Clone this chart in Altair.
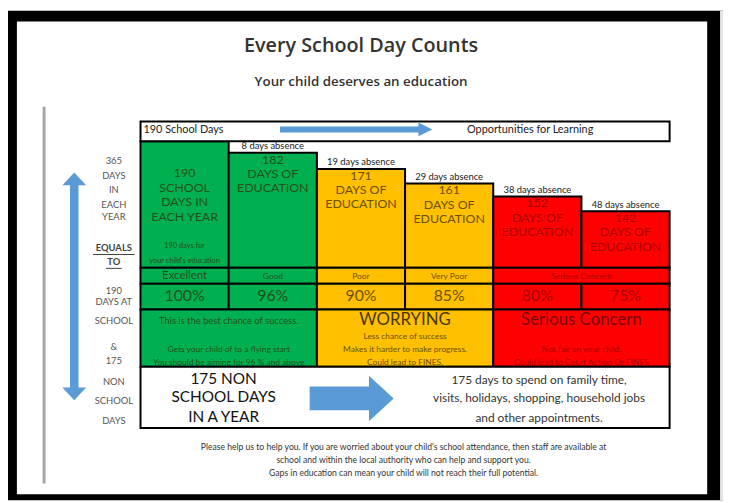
import altair as alt
import pandas as pd

# ---------------- data ----------------
days = [190, 182, 171, 161, 152, 142]
absence = [0, 8, 19, 29, 38, 48]
percent = ["100%", "96%", "90%", "85%", "80%", "75%"]
ratings = ["Excellent", "Good", "Poor", "Very Poor", "Serious Concern"]
rating_span = [1, 1, 1, 1, 2]
first_col_lines = ["190", "SCHOOL", "DAYS IN", "EACH YEAR"]
first_col_note = ["190 days for", "your child's education"]
msg_heads = ["", "WORRYING", "Serious Concern"]
msg_lines = [
    ["This is the best chance of success.", "", "Gets your child of to a flying start",
     "You should be aiming for 96 % and above"],
    ["", "Less chance of success", "Makes it harder to make progress.", "Could lead to FINES."],
    ["", "", "Not fair on your child.", "Could lead to Court Action Or FINES"],
]
left_labels = ["365", "DAYS", "IN", "EACH", "YEAR", "EQUALS", "TO", "190", "DAYS AT",
               "SCHOOL", "&", "175", "NON", "SCHOOL", "DAYS"]
non_school_left = ["175 NON", "SCHOOL DAYS", "IN A YEAR"]
non_school_right = ["175 days to spend on family time,",
                    "visits, holidays, shopping, household jobs",
                    "and other appointments."]
footer = ["Please help us to help you. If you are worried about your child's school attendance, then staff are available at",
          "school and within the local authority who can help and support you.",
          "Gaps in education can mean your child will not reach their full potential."]
title = "Every School Day Counts"
subtitle = "Your child deserves an education"
header_left = "190 School Days"
header_right = "Opportunities for Learning"

# ---------------- styles / layout ----------------
W, H = 723, 495
GREEN, YELLOW, RED, BLUE = "#00b050", "#ffc000", "#ff0000", "#5b9bd5"
band_fill = [GREEN, GREEN, YELLOW, YELLOW, RED, RED]
band_text = ["#24501a", "#24501a", "#6e5000", "#6e5000", "#a80000", "#a80000"]
head_text = ["#24501a", "#4a3600", "#7a0000"]
BODY = "Lato"
HEAD = "Open Sans"
X0, CW = 134.0, 89.17          # first column left edge, column width
TOP190, PXD = 131.9, 1.475     # pixel of 190-day top, pixels per day
BOTTOM = 260.0

xs = alt.Scale(domain=[0, W], nice=False, zero=False)
ys = alt.Scale(domain=[0, H], reverse=True, nice=False, zero=False)


def d_at(px):
    return 190 - (px - TOP190) / PXD


ds = alt.Scale(domain=[d_at(H), d_at(0)], nice=False, zero=False)
BASE = d_at(BOTTOM)


def col_x(i):
    return X0 + i * CW


def rect_layer(rows):
    df = pd.DataFrame(rows, columns=["x", "x2", "y", "y2", "fill", "stroke", "sw"])
    return alt.Chart(df).mark_rect().encode(
        x=alt.X("x:Q", scale=xs, axis=None), x2="x2:Q",
        y=alt.Y("y:Q", scale=ys, axis=None), y2="y2:Q",
        fill=alt.Fill("fill:N", scale=None),
        stroke=alt.Stroke("stroke:N", scale=None),
        strokeWidth=alt.StrokeWidth("sw:Q", scale=None))


def text_layer(rows, align="center", font=BODY, weight="normal"):
    df = pd.DataFrame(rows, columns=["x", "y", "t", "s", "c"])
    return alt.Chart(df).mark_text(align=align, baseline="middle", font=font, fontWeight=weight).encode(
        x=alt.X("x:Q", scale=xs, axis=None), y=alt.Y("y:Q", scale=ys, axis=None),
        text="t:N", size=alt.Size("s:Q", scale=None), color=alt.Color("c:N", scale=None))


def head_layer(x, y, path, size):
    df = pd.DataFrame({"x": [x], "y": [y]})
    return alt.Chart(df).mark_point(shape=path, size=size, filled=True, opacity=1,
                                    color=BLUE, strokeWidth=0).encode(
        x=alt.X("x:Q", scale=xs, axis=None), y=alt.Y("y:Q", scale=ys, axis=None))


layers = []

# frame
layers.append(rect_layer([
    [0, W, 0, H, "#000000", "#000000", 0],
    [720, W, 0, H, "#e4e4e4", "#e4e4e4", 0],
    [9, 707, 11, 489, "#ffffff", "#ffffff", 0],
    [35, 38, 97, 478, "#a6a6a6", "#a6a6a6", 0],
]))

# titles
layers.append(text_layer([[357, 36, title, 20, "#333333"]], font=HEAD, weight=600))
layers.append(text_layer([[357, 72, subtitle, 13.5, "#333333"]], font=HEAD, weight=600))

# left vertical double arrow
layers.append(rect_layer([[62.7, 71.3, 175, 382, BLUE, BLUE, 0]]))
layers.append(head_layer(67, 170, "M0,-0.54L1,0.54L-1,0.54Z", 576))
layers.append(head_layer(67, 387.5, "M0,0.54L1,-0.54L-1,-0.54Z", 576))

# left labels
left_y = [152, 167, 181, 196, 209, 240, 254, 283, 295, 314, 340, 354, 375, 395, 415]
plain = [[107, y, t, 9.5, "#555555"] for t, y in zip(left_labels, left_y) if t not in ("EQUALS", "TO")]
bold = [[107, y, t, 9.5, "#444444"] for t, y in zip(left_labels, left_y) if t in ("EQUALS", "TO")]
layers.append(text_layer(plain))
layers.append(text_layer(bold, weight="bold"))
layers.append(rect_layer([[86, 128, 246, 247, "#444444", "#444444", 0],
                          [99, 115, 260, 261, "#444444", "#444444", 0]]))

# bars (days of education)
bars = pd.DataFrame({"col": list(range(6)), "days": days, "fill": band_fill,
                     "tc": band_text, "absence": absence})
bars["x"] = bars.col.map(col_x)
bars["x2"] = bars.x + CW
bars["xc"] = bars.x + CW / 2
bars["base"] = BASE
layers.append(alt.Chart(bars).mark_rect(stroke="black", strokeWidth=2).encode(
    x=alt.X("x:Q", scale=xs, axis=None), x2="x2:Q",
    y=alt.Y("days:Q", scale=ds, axis=None), y2="base:Q",
    fill=alt.Fill("fill:N", scale=None)))


def day_text(df, field, dy, size, color_field=None, color=None):
    enc = dict(x=alt.X("xc:Q", scale=xs, axis=None),
               y=alt.Y("days:Q", scale=ds, axis=None),
               text=alt.Text(field + ":N"))
    if color_field:
        enc["color"] = alt.Color(color_field + ":N", scale=None)
    mk = dict(dy=dy, fontSize=size, font=BODY, baseline="middle", align="center")
    if color:
        mk["color"] = color
    return alt.Chart(df).mark_text(**mk).encode(**enc)


rest = bars[bars.col > 0].copy()
rest["num"] = rest.days.astype(str)
rest["l1"] = "DAYS OF"
rest["l2"] = "EDUCATION"
rest["abs"] = rest.absence.astype(str) + " days absence"
layers.append(day_text(rest, "num", 7, 12.5, "tc"))
layers.append(day_text(rest, "l1", 21.5, 12.5, "tc"))
layers.append(day_text(rest, "l2", 36, 12.5, "tc"))
layers.append(day_text(rest, "abs", -6.5, 9.5, color="#222222"))

first = bars[bars.col == 0].copy()
for k, (line, dy) in enumerate(zip(first_col_lines, [32, 47, 62, 77])):
    first["l%d" % k] = line
    layers.append(day_text(first, "l%d" % k, dy, 12.5, "tc"))
for k, (line, dy) in enumerate(zip(first_col_note, [106, 121])):
    first["n%d" % k] = line
    layers.append(day_text(first, "n%d" % k, dy, 7.5, "tc"))

# header box with arrow
layers.append(rect_layer([[X0, col_x(6), 112, TOP190, "#ffffff", "#000000", 2]]))
layers.append(rect_layer([[275, 417, 117, 123, BLUE, BLUE, 0]]))
layers.append(head_layer(422, 120, "M-1,-1L1,0L-1,1Z", 196))
layers.append(text_layer([[137, 121, header_left, 11, "#222222"]], align="left"))
layers.append(text_layer([[528, 121, header_right, 11, "#222222"]]))

# rating row, percent row, message row
r_rows, r_txt = [], []
c = 0
for lab, span in zip(ratings, rating_span):
    x0, x1 = col_x(c), col_x(c + span)
    r_rows.append([x0, x1, 260, 276, band_fill[c], "#000000", 2])
    r_txt.append([(x0 + x1) / 2, 268, lab, 11.5 if c == 0 else 8.5, band_text[c]])
    c += span
p_rows, p_txt = [], []
for i, p in enumerate(percent):
    p_rows.append([col_x(i), col_x(i + 1), 276, 302, band_fill[i], "#000000", 2])
    p_txt.append([col_x(i) + CW / 2, 289, p, 16, band_text[i]])
m_rows, m_txt, m_head = [], [], []
for g in range(3):
    x0, x1 = col_x(2 * g), col_x(2 * g + 2)
    m_rows.append([x0, x1, 302, 360, band_fill[2 * g], "#000000", 2])
    if msg_heads[g]:
        m_head.append([(x0 + x1) / 2, 313, msg_heads[g], 17, head_text[g]])
    for k, (line, y) in enumerate(zip(msg_lines[g], [314, 329, 342, 355])):
        if line:
            m_txt.append([(x0 + x1) / 2, y, line, 9.5 if k == 0 else 8.5, band_text[2 * g]])
layers.append(rect_layer(r_rows + p_rows + m_rows))
layers.append(text_layer(r_txt + p_txt + m_head + m_txt))

# non-school days box
layers.append(rect_layer([[X0, col_x(6), 360, 422, "#ffffff", "#000000", 2]]))
layers.append(text_layer([[218, y, t, 15.5, "#111111"] for t, y in zip(non_school_left, [372, 391, 411])]))
layers.append(text_layer([[537, y, t, 12, "#333333"] for t, y in zip(non_school_right, [373, 392, 412])]))
layers.append(rect_layer([[305, 367, 380, 404, BLUE, BLUE, 0]]))
layers.append(head_layer(377.5, 392, "M-0.543,-1L0.543,0L-0.543,1Z", 2116))

# footer
layers.append(text_layer([[400, y, t, 8.7, "#333333"] for t, y in zip(footer, [441, 454, 467])]))

chart = alt.layer(*layers).resolve_scale(y="independent", x="shared").properties(
    width=W, height=H, padding=0, autosize=alt.AutoSizeParams(type="none"),
    background="#ffffff"
).configure_view(stroke=None)

chart.save("out.html", embed_options={"renderer": "svg", "actions": False})
